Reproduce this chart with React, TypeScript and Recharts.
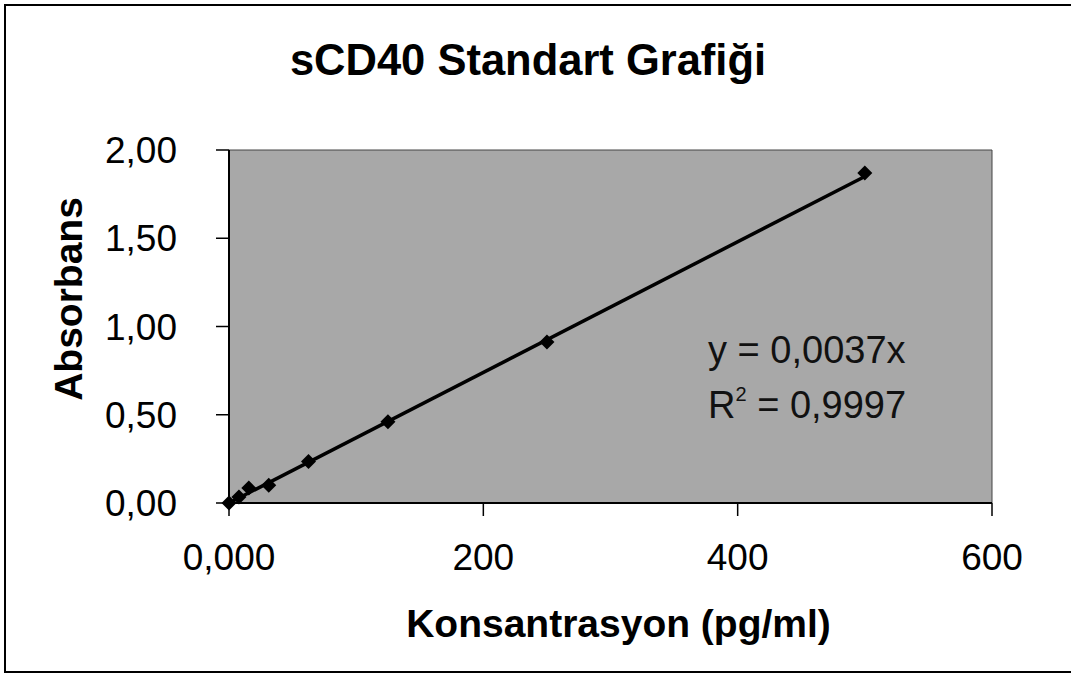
import React from "react"
import { CartesianGrid, ReferenceLine, Scatter, ScatterChart, XAxis, YAxis } from "recharts"

// standart konsantrasyonlari (pg/ml) ve olculen absorbans
const concentrations = [0, 7.8, 15.6, 31.25, 62.5, 125, 250, 500]
const absorbances = [0, 0.034, 0.085, 0.1, 0.235, 0.46, 0.912, 1.87]

// trend cizgisi y = 0,0037x uc noktalari
const trendX = [0, 500]
const trendY = [0, 1.85]

const xTicks = [0, 200, 400, 600]
const xTickLabels = ["0,000", "200", "400", "600"]
const yTicks = [0, 0.5, 1, 1.5, 2]
const yTickLabels = ["0,00", "0,50", "1,00", "1,50", "2,00"]

const title = "sCD40 Standart Grafiği"
const xTitle = "Konsantrasyon (pg/ml)"
const yTitle = "Absorbans"
const equation = "y = 0,0037x"
const rSquared = "0,9997"

const points = concentrations.map((x, i) => ({ x, y: absorbances[i] }))
const trend = trendX.map((x, i) => ({ x, y: trendY[i] }))

const FONT = "'Liberation Sans', Arial, sans-serif"

function Diamond(props: any) {
  const { cx, cy } = props
  if (cx == null || cy == null) return null
  const r = 7.5
  return <polygon points={`${cx},${cy - r} ${cx + r},${cy} ${cx},${cy + r} ${cx - r},${cy}`} fill="#000" />
}

export default function App() {
  return (
    <div
      style={{
        position: "absolute",
        left: 0,
        top: 0,
        width: 1071,
        height: 681,
        background: "#fff",
        fontFamily: FONT,
        overflow: "hidden",
      }}
    >
      <div
        style={{
          position: "absolute",
          left: 4,
          top: 4,
          width: 1075,
          height: 665,
          borderLeft: "2px solid #000",
          borderTop: "2px solid #000",
          borderBottom: "2px solid #000",
        }}
      />
      <ScatterChart width={1071} height={681} margin={{ top: 150, right: 79, bottom: 0, left: 0 }}>
        <CartesianGrid fill="#a8a8a8" horizontal={false} vertical={false} />
        <XAxis
          type="number"
          dataKey="x"
          domain={[0, 600]}
          ticks={xTicks}
          tickFormatter={(v: number) => xTickLabels[xTicks.indexOf(v)]}
          height={178}
          tickSize={13}
          tickMargin={28}
          axisLine={{ stroke: "#000", strokeWidth: 2 }}
          tickLine={{ stroke: "#000", strokeWidth: 1.5 }}
          tick={{ fontSize: 37, fill: "#000", fontFamily: FONT }}
          label={{
            value: xTitle,
            position: "insideBottom",
            offset: 44,
            dx: 8,
            style: { fontSize: 39, fontWeight: "bold", fill: "#000", fontFamily: FONT },
          }}
        />
        <YAxis
          type="number"
          dataKey="y"
          domain={[0, 2]}
          ticks={yTicks}
          tickFormatter={(v: number) => yTickLabels[yTicks.indexOf(v)]}
          width={229}
          tickSize={13}
          tickMargin={39}
          axisLine={{ stroke: "#000", strokeWidth: 2 }}
          tickLine={{ stroke: "#000", strokeWidth: 1.5 }}
          tick={{ fontSize: 37, fill: "#000", fontFamily: FONT }}
        />
        <ReferenceLine y={2} stroke="#444" strokeWidth={1} ifOverflow="visible" />
        <ReferenceLine x={600} stroke="#444" strokeWidth={1} ifOverflow="visible" />
        <Scatter data={trend} line={{ stroke: "#000", strokeWidth: 3.5 }} shape={() => null} isAnimationActive={false} />
        <Scatter data={points} shape={<Diamond />} isAnimationActive={false} />
      </ScatterChart>
      <svg
        width={1071}
        height={681}
        style={{ position: "absolute", left: 0, top: 0, pointerEvents: "none" }}
      >
        <text x={528} y={75} textAnchor="middle" fontSize={43.5} fontWeight="bold" fontFamily={FONT} fill="#000">
          {title}
        </text>
        <text
          x={82}
          y={299}
          textAnchor="middle"
          transform="rotate(-90 82 299)"
          fontSize={39}
          fontWeight="bold"
          fontFamily={FONT}
          fill="#000"
        >
          {yTitle}
        </text>
        <text x={708} y={363} fontSize={38} fontFamily={FONT} fill="#111">
          {equation}
        </text>
        <text x={708} y={418} fontSize={38} fontFamily={FONT} fill="#111">
          <tspan>R</tspan>
          <tspan dy={-17} fontSize={20}>
            2
          </tspan>
          <tspan dy={17}> = {rSquared}</tspan>
        </text>
      </svg>
    </div>
  )
}
